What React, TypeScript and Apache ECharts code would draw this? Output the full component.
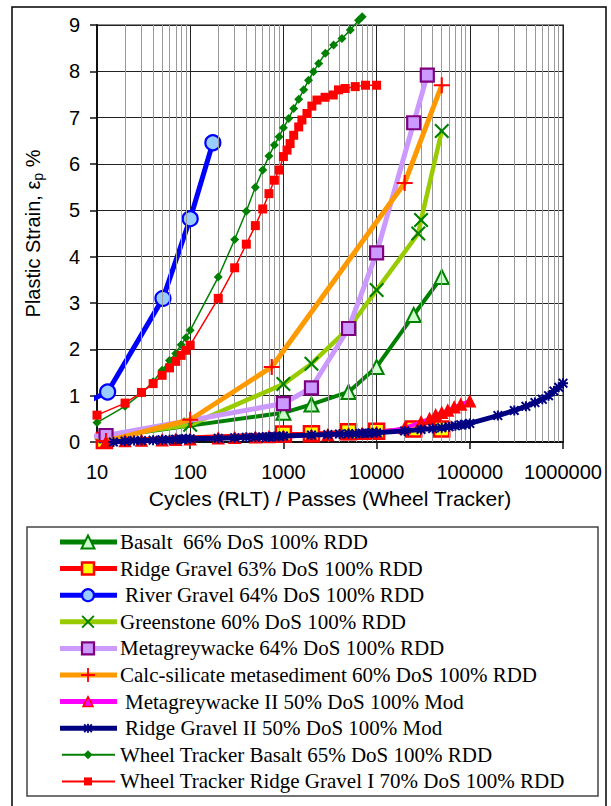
import React, { useEffect, useRef } from 'react';
import * as echarts from 'echarts';

// ---------- data (x = cycles / passes, y = plastic strain %) ----------
const xTickLabels = [10, 100, 1000, 10000, 100000, 1000000];

const basalt = [[1, 0], [12.5, 0.1], [1000, 0.63], [2000, 0.81], [5000, 1.08], [10000, 1.62], [25000, 2.74], [50000, 3.56]];
const ridgeGravel = [[12, 0.03], [1000, 0.17], [2000, 0.18], [5000, 0.22], [10000, 0.23], [25000, 0.28], [50000, 0.28]];
const riverGravel = [[1, 0], [13, 1.08], [51, 3.1], [100, 4.82], [175, 6.46]];
const greenstone = [[1, 0], [12.5, 0.12], [100, 0.37], [1000, 1.25], [2000, 1.69], [5000, 2.45], [10000, 3.28], [28000, 4.5], [30000, 4.79], [50000, 6.71]];
const metagreywacke = [[1, 0], [12.5, 0.14], [1000, 0.83], [2000, 1.17], [5000, 2.45], [10000, 4.08], [25000, 6.89], [35000, 7.92]];
const calcSilicate = [[12.5, 0.02], [100, 0.48], [750, 1.62], [20000, 5.59], [50000, 7.7]];
const metagreywackeII = [[12.5, 0], [20, 0.02], [30, 0.03], [50, 0.04], [70, 0.05], [100, 0.06], [200, 0.08], [300, 0.09], [500, 0.1], [700, 0.11], [1000, 0.12], [2000, 0.14], [3000, 0.15], [5000, 0.17], [7000, 0.18], [10000, 0.2], [20000, 0.3], [30000, 0.43], [37000, 0.5], [43000, 0.58], [50000, 0.63], [58000, 0.68], [68000, 0.75], [80000, 0.81], [100000, 0.88]];
const ridgeGravelII = [[15, 0], [20, 0.02], [25, 0.03], [30, 0.03], [40, 0.04], [50, 0.05], [60, 0.05], [70, 0.06], [80, 0.06], [90, 0.07], [100, 0.07], [200, 0.08], [300, 0.09], [400, 0.1], [500, 0.1], [600, 0.11], [700, 0.11], [800, 0.12], [900, 0.12], [1000, 0.13], [2000, 0.15], [3000, 0.16], [4000, 0.17], [5000, 0.18], [6000, 0.18], [7000, 0.19], [8000, 0.19], [9000, 0.2], [10000, 0.2], [20000, 0.24], [30000, 0.27], [40000, 0.29], [50000, 0.31], [60000, 0.33], [70000, 0.35], [80000, 0.37], [90000, 0.38], [100000, 0.4], [200000, 0.57], [300000, 0.68], [400000, 0.77], [500000, 0.85], [600000, 0.92], [700000, 1.0], [800000, 1.1], [900000, 1.18], [1000000, 1.27]];
const wtBasalt = [[10, 0.42], [20, 0.77], [30, 1.05], [40, 1.3], [50, 1.55], [60, 1.76], [70, 1.91], [80, 2.1], [90, 2.25], [100, 2.41], [200, 3.56], [300, 4.37], [400, 4.98], [500, 5.5], [600, 5.87], [700, 6.17], [800, 6.41], [900, 6.59], [1000, 6.78], [1140, 6.98], [1290, 7.2], [1460, 7.4], [1650, 7.6], [1860, 7.81], [2100, 7.99], [2390, 8.17], [2820, 8.39], [3460, 8.57], [4250, 8.71], [5220, 8.89], [6400, 9.1], [7000, 9.18]];
const wtRidgeGravel = [[10, 0.58], [20, 0.84], [30, 1.07], [40, 1.26], [50, 1.44], [60, 1.6], [70, 1.74], [80, 1.87], [90, 1.98], [100, 2.09], [200, 3.1], [300, 3.76], [400, 4.27], [500, 4.67], [600, 5.03], [700, 5.36], [800, 5.65], [900, 5.87], [1000, 6.16], [1095, 6.3], [1180, 6.44], [1290, 6.62], [1460, 6.8], [1580, 6.95], [1790, 7.09], [2020, 7.25], [2290, 7.38], [2800, 7.44], [3430, 7.49], [3900, 7.6], [4600, 7.63], [5900, 7.67], [7600, 7.7], [10000, 7.7]];

// ---------- symbol shapes (10x10 units) ----------
const X_PTS = [[0, 1], [1, 0], [5, 4], [9, 0], [10, 1], [6, 5], [10, 9], [9, 10], [5, 6], [1, 10], [0, 9], [4, 5]];
const PLUS_PTS = [[4.35, 0], [5.65, 0], [5.65, 4.35], [10, 4.35], [10, 5.65], [5.65, 5.65], [5.65, 10], [4.35, 10], [4.35, 5.65], [0, 5.65], [0, 4.35], [4.35, 4.35]];
const STAR_X = [[0, 1.4], [1.4, 0], [5, 3.6], [8.6, 0], [10, 1.4], [6.4, 5], [10, 8.6], [8.6, 10], [5, 6.4], [1.4, 10], [0, 8.6], [3.6, 5]];
const STAR_P = [[4, 0], [6, 0], [6, 4], [10, 4], [10, 6], [6, 6], [6, 10], [4, 10], [4, 6], [0, 6], [0, 4], [4, 4]];
const DIAMOND_PTS = [[5, 0], [10, 5], [5, 10], [0, 5]];
const TRI_PTS = [[5, 0], [10, 10], [0, 10]];

const sub = (pts: number[][]) => pts.map((p, i) => (i ? 'L' : 'M') + p[0] + ',' + p[1]).join(' ') + ' Z';
const SHAPES: Record<string, number[][][]> = {
  x: [X_PTS],
  plus: [PLUS_PTS],
  star: [STAR_X, STAR_P],
};
const symbolName = (kind: string) => (SHAPES[kind] ? 'path://' + SHAPES[kind].map(sub).join(' ') : kind);

const FONT_SANS = 'Liberation Sans';
const FONT_SERIF = 'Liberation Serif';

const seriesDefs = [
  { name: 'Basalt\u00a0 66% DoS 100% RDD', data: basalt, color: '#008000', lw: 4, sym: 'triangle', size: 14, fill: '#ccffcc', border: '#008000', bw: 2, legLw: 5, legSize: 13, legFill: '#ccffcc', indent: 0 },
  { name: 'Ridge Gravel 63% DoS 100% RDD', data: ridgeGravel, color: '#ff0000', lw: 4, sym: 'rect', size: 15, fill: '#ffff00', border: '#ff0000', bw: 2.5, legLw: 5, legSize: 12, legFill: '#ffff00', indent: 0 },
  { name: 'River Gravel 64% DoS 100% RDD', data: riverGravel, color: '#0000ff', lw: 5, sym: 'circle', size: 15, fill: '#99ccff', border: '#0000ff', bw: 2.2, legLw: 5, legSize: 12, legFill: '#99ccff', indent: 5 },
  { name: 'Greenstone 60% DoS 100% RDD', data: greenstone, color: '#99cc00', lw: 4.5, sym: 'x', size: 15, fill: '#008000', border: '#008000', bw: 0, legLw: 5, legSize: 13, legFill: '#008000', indent: 0 },
  { name: 'Metagreywacke 64% DoS 100% RDD', data: metagreywacke, color: '#cc99ff', lw: 5, sym: 'rect', size: 13, fill: '#cc99ff', border: '#800080', bw: 2.2, legLw: 5, legSize: 12, legFill: '#cc99ff', indent: 0 },
  { name: 'Calc-silicate metasediment 60% DoS 100% RDD', data: calcSilicate, color: '#ff9900', lw: 5, sym: 'plus', size: 16, fill: '#ff0000', border: '#ff0000', bw: 0, legLw: 5, legSize: 14, legFill: '#ff0000', indent: 0 },
  { name: 'Metagreywacke II 50% DoS 100% Mod', data: metagreywackeII, color: '#ff00ff', lw: 4, sym: 'triangle', size: 11, fill: '#ff0000', border: '#ff0000', bw: 1.5, legLw: 5, legSize: 10, legFill: '#ff00ff', indent: 5 },
  { name: 'Ridge Gravel II 50% DoS 100% Mod', data: ridgeGravelII, color: '#000080', lw: 5, sym: 'star', size: 10, fill: '#000080', border: '#000080', bw: 0, legLw: 5, legSize: 9, legFill: '#000080', indent: 5 },
  { name: 'Wheel Tracker Basalt 65% DoS 100% RDD', data: wtBasalt, color: '#008000', lw: 1.5, sym: 'diamond', size: 9, fill: '#008000', border: '#008000', bw: 0, legLw: 2, legSize: 9, legFill: '#008000', indent: 0 },
  { name: 'Wheel Tracker Ridge Gravel I 70% DoS 100% RDD', data: wtRidgeGravel, color: '#ff0000', lw: 1.5, sym: 'rect', size: 9, fill: '#ff0000', border: '#ff0000', bw: 0, legLw: 2, legSize: 8, legFill: '#ff0000', indent: 0 },
];

function legendSymbol(kind: string, cx: number, cy: number, s: number, fill: string, stroke: string, bw: number): any[] {
  const map = (pts: number[][]) => pts.map((p) => [cx + ((p[0] - 5) * s) / 10, cy + ((p[1] - 5) * s) / 10]);
  const st = { fill, stroke: bw ? stroke : undefined, lineWidth: bw };
  if (kind === 'rect') return [{ type: 'rect', shape: { x: cx - s / 2, y: cy - s / 2, width: s, height: s }, style: st }];
  if (kind === 'circle') return [{ type: 'circle', shape: { cx, cy, r: s / 2 }, style: st }];
  if (kind === 'triangle') return [{ type: 'polygon', shape: { points: map(TRI_PTS) }, style: st }];
  if (kind === 'diamond') return [{ type: 'polygon', shape: { points: map(DIAMOND_PTS) }, style: st }];
  return SHAPES[kind].map((pts) => ({ type: 'polygon', shape: { points: map(pts) }, style: { fill } }));
}

export default function App() {
  const ref = useRef<HTMLDivElement>(null);
  useEffect(() => {
    if (!ref.current) return;
    const chart = echarts.init(ref.current, undefined, { renderer: 'svg' });

    const minorX: number[] = [];
    for (let e = 1; e < 6; e++) for (let m = 2; m <= 9; m++) minorX.push(m * Math.pow(10, e));

    const graphics: any[] = [
      { type: 'rect', shape: { x: 12, y: 7, width: 594, height: 812 }, style: { fill: 'none', stroke: '#000', lineWidth: 1.5 }, silent: true, z: 100 },
      { type: 'rect', shape: { x: 27, y: 527, width: 571, height: 269 }, style: { fill: 'none', stroke: '#444', lineWidth: 1.5 }, silent: true, z: 100 },
    ];
    seriesDefs.forEach((d, i) => {
      const y = 542 + 26.6 * i;
      const wt = d.lw < 2;
      graphics.push({ type: 'line', shape: { x1: wt ? 62 : 60, y1: y, x2: wt ? 115 : 117, y2: y }, style: { stroke: d.color, lineWidth: d.legLw }, z: 100, silent: true });
      legendSymbol(d.sym, 88, y, d.legSize, d.legFill, d.border, d.bw).forEach((g) => graphics.push({ ...g, z: 101, silent: true }));
      graphics.push({ type: 'text', x: 120 + d.indent, y, style: { text: d.name, fontFamily: FONT_SERIF, fontSize: 21, fill: '#000', verticalAlign: 'middle', align: 'left' }, z: 101, silent: true });
    });

    const series: any[] = [
      {
        type: 'line', data: [], z: 1, silent: true,
        markLine: { silent: true, symbol: ['none', 'none'], label: { show: false }, animation: false, lineStyle: { color: '#9a9a9a', type: 'solid', width: 1 }, data: minorX.map((v) => ({ xAxis: v })) },
      },
      ...seriesDefs.map((d, i) => ({
        name: d.name, type: 'line', data: d.data, z: 2 + i,
        clip: d.name.startsWith('Wheel Tracker Basalt') ? false : true,
        symbol: symbolName(d.sym), symbolSize: d.size, showSymbol: true,
        lineStyle: { color: d.color, width: d.lw },
        itemStyle: { color: d.fill, borderColor: d.border, borderWidth: d.bw },
        emphasis: { disabled: true },
      })),
    ];
    // hide symbol on the origin points (x = 1, outside axis range)
    series.forEach((s) => {
      if (Array.isArray(s.data)) s.data = s.data.map((p: number[]) => (p[0] < 10 ? { value: p, symbol: 'none' } : p));
    });

    chart.setOption({
      animation: false,
      backgroundColor: '#fff',
      grid: { left: 97, top: 25, width: 466, height: 417, show: true, borderColor: '#8a8a8a', borderWidth: 2, backgroundColor: 'transparent' },
      xAxis: {
        type: 'log', logBase: 10, min: 10, max: 1000000,
        name: 'Cycles (RLT) / Passes (Wheel Tracker)', nameLocation: 'middle', nameGap: 46,
        nameTextStyle: { fontFamily: FONT_SANS, fontSize: 21, color: '#000' },
        axisLine: { lineStyle: { color: '#111', width: 2 } },
        axisTick: { show: true, inside: false, length: 7, lineStyle: { color: '#111', width: 1.5 } },
        axisLabel: {
          fontFamily: FONT_SANS, fontSize: 20, color: '#000', margin: 20,
          formatter: (v: number) => { const r = Math.round(v); return xTickLabels.includes(r) ? String(r) : ''; },
        },
        splitLine: { show: true, lineStyle: { color: '#222', width: 1 } },
        minorTick: { show: false }, minorSplitLine: { show: false },
      },
      yAxis: {
        type: 'value', min: 0, max: 9, interval: 1,
        name: 'Plastic Strain, ε{sub|p} %', nameLocation: 'middle', nameGap: 52, nameRotate: 90,
        nameTextStyle: {
          fontFamily: FONT_SANS, fontSize: 20, color: '#000', lineHeight: 24,
          rich: { sub: { fontFamily: FONT_SANS, fontSize: 14, color: '#000', lineHeight: 14, verticalAlign: 'bottom' } },
        },
        axisLine: { show: true, lineStyle: { color: '#111', width: 2 } },
        axisTick: { show: true, inside: false, length: 7, lineStyle: { color: '#111', width: 1.5 } },
        axisLabel: { fontFamily: FONT_SANS, fontSize: 20, color: '#000', margin: 17 },
        splitLine: { show: true, lineStyle: { color: '#222', width: 1 } },
      },
      graphic: graphics,
      series,
    });
    return () => chart.dispose();
  }, []);
  return <div ref={ref} style={{ position: 'absolute', left: 0, top: 0, width: 611, height: 806, background: '#fff' }} />;
}
